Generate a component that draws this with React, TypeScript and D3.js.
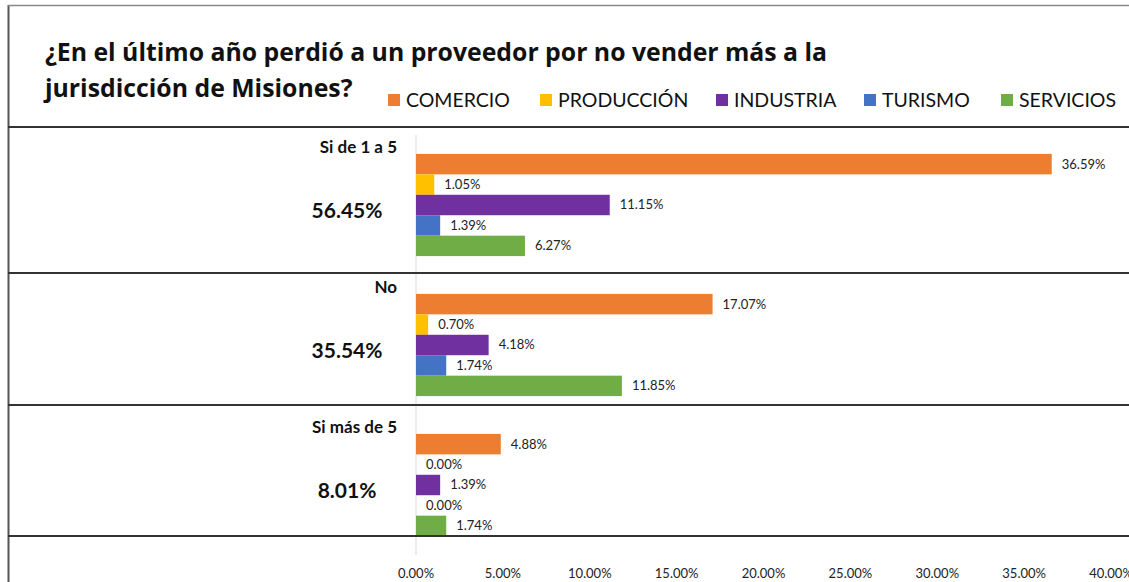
import React from 'react';
import * as d3 from 'd3';

const categories = ['Si de 1 a 5', 'No', 'Si más de 5'];
const totals = ['56.45%', '35.54%', '8.01%'];
const seriesNames = ['COMERCIO', 'PRODUCCIÓN', 'INDUSTRIA', 'TURISMO', 'SERVICIOS'];
const seriesColors = ['#ed7d31', '#ffc000', '#7030a0', '#4472c4', '#70ad47'];
const comercio = [36.59, 17.07, 4.88];
const produccion = [1.05, 0.7, 0.0];
const industria = [11.15, 4.18, 1.39];
const turismo = [1.39, 1.74, 0.0];
const servicios = [6.27, 11.85, 1.74];
const xTicks = [0, 5, 10, 15, 20, 25, 30, 35, 40];

const seriesValues = [comercio, produccion, industria, turismo, servicios];

const W = 1129;
const H = 582;
const font = 'Lato, "Open Sans", sans-serif';

export default function App() {
  const x = d3.scaleLinear().domain([0, 40]).range([416, 1111]);
  const y = d3.scaleBand().domain(categories).range([135, 555]).paddingInner(0.27).paddingOuter(0.135);
  const inner = d3.scaleBand().domain(seriesNames).range([0, y.bandwidth()]);
  const step = y.step();
  const fmt = (v: number) => v.toFixed(2) + '%';

  const legendX = [388, 540, 716, 864, 1001];
  const tableLines = [127, 273, 405, 536];

  return (
    <svg width={W} height={H} style={{ position: 'absolute', left: 0, top: 0, background: '#fff' }} fontFamily={font}>
      <rect x={0} y={0} width={W} height={H} fill="#fff" />
      {/* frame */}
      <line x1={8.5} x2={8.5} y1={5} y2={H} stroke="#555" strokeWidth={2} />
      <line x1={8} x2={W} y1={5.5} y2={5.5} stroke="#888" strokeWidth={1.5} />

      {/* title */}
      <text x={45} y={61} fontSize={24.8} fontWeight="bold" fill="#111" fontFamily='"Open Sans", sans-serif'>
        ¿En el último año perdió a un proveedor por no vender más a la
      </text>
      <text x={45} y={97} fontSize={24.8} fontWeight="bold" fill="#111" fontFamily='"Open Sans", sans-serif'>
        jurisdicción de Misiones?
      </text>

      {/* legend */}
      {seriesNames.map((s, i) => (
        <g key={s}>
          <rect x={legendX[i]} y={94} width={12} height={12} fill={seriesColors[i]} />
          <text x={legendX[i] + 18} y={107} fontSize={19.5} fill="#111">{s}</text>
        </g>
      ))}

      {/* zero gridline */}
      <line x1={x(0)} x2={x(0)} y1={y.range()[0]} y2={y.range()[1]} stroke="#d9d9d9" strokeWidth={1} />

      {/* bars */}
      {categories.map((c, ci) => (
        <g key={c} transform={`translate(0,${y(c)})`}>
          {seriesNames.map((s, si) => {
            const v = seriesValues[si][ci];
            const by = inner(s) as number;
            return (
              <g key={s}>
                <rect x={x(0)} y={by} width={x(v) - x(0)} height={inner.bandwidth()} fill={seriesColors[si]} />
                <text x={x(v) + 10} y={by + inner.bandwidth() / 2 + 4.5} fontSize={13} fill="#222">
                  {fmt(v)}
                </text>
              </g>
            );
          })}
        </g>
      ))}

      {/* category labels */}
      {categories.map((c, ci) => {
        const top = (y(c) as number) - (step - y.bandwidth()) / 2;
        return (
          <g key={c}>
            <text x={397} y={top + 18} textAnchor="end" fontSize={17} fontWeight="bold" fill="#111">{c}</text>
            <text x={347} y={top + 83} textAnchor="middle" fontSize={21} fontWeight="bold" fill="#111">{totals[ci]}</text>
          </g>
        );
      })}

      {/* table lines */}
      {tableLines.map((ly) => (
        <line key={ly} x1={8} x2={W} y1={ly} y2={ly} stroke="#333" strokeWidth={2} />
      ))}

      {/* x axis labels */}
      {xTicks.map((t) => (
        <text key={t} x={x(t)} y={578} textAnchor="middle" fontSize={13} fill="#222">{fmt(t)}</text>
      ))}
    </svg>
  );
}
